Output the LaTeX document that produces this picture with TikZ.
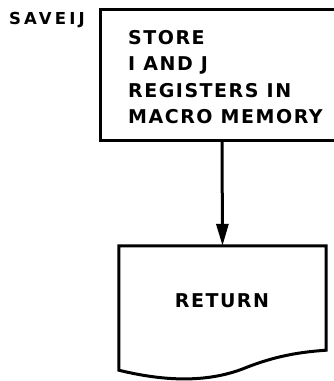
\documentclass[tikz,border=0pt]{standalone}
\usepackage{fontspec}
\newfontfamily\lblfont[LetterSpace=8]{DejaVu Sans}
\newfontfamily\tagfont[LetterSpace=19]{DejaVu Sans}
\usetikzlibrary{arrows.meta}
\tikzset{
  flowline/.style={line width=3pt, line join=miter},
  boxtext/.style={inner sep=0pt, font=\lblfont\bfseries\fontsize{19}{26.5}\selectfont},
  arr/.style={flowline, -{Triangle[width=12pt,length=22pt]}},
}
\begin{document}
\begin{tikzpicture}[x=1pt,y=1pt]
% process box (runs off the right edge of the picture)
\node[rectangle, minimum width=242pt, minimum height=130pt, inner sep=0pt]
  (store) at (222,-75) {};
\draw[flowline] (store.north east) -- (store.north west) -- (store.south west) -- (store.south east);
\node[boxtext, anchor=north west, align=left] (storetxt) at (128,-30)
  {STORE\\I AND J\\REGISTERS IN\\MACRO MEMORY};
\node[inner sep=0pt, anchor=north west, font=\tagfont\bfseries\fontsize{16.5}{18}\selectfont]
  (tag) at (9,-12.5) {SAVEIJ};
% return (document-shaped) box
\node[minimum width=207pt, minimum height=104pt, inner sep=0pt] (retbox) at (222.5,-298) {};
\node[boxtext] (ret) at (222,-300.5) {RETURN};
\draw[flowline] (retbox.south west) ++(0,-20) coordinate (retbl)
  -- (retbox.north west) -- (retbox.north east) -- (retbox.south east)
  .. controls (300,-352) and (275,-356) .. (245,-368)
  .. controls (215,-380) and (175,-384) .. (retbl) -- cycle;
\draw[arr] (store.south) -- (retbox.north);
\pgfresetboundingbox
\useasboundingbox (0,0) rectangle (334,-381);
\end{tikzpicture}
\end{document}
